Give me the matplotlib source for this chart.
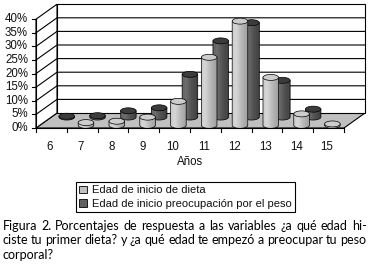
import numpy as np
import matplotlib
matplotlib.use("Agg")
import matplotlib.pyplot as plt
from matplotlib.patches import Polygon, Ellipse, Patch

# datos (porcentaje de respuestas)
anios = ["6", "7", "8", "9", "10", "11", "12", "13", "14", "15"]
inicio_dieta = [0.0, 1.0, 1.5, 3.0, 8.8, 25.0, 38.3, 17.6, 4.2, 0.5]
inicio_preocupacion = [0.3, 0.5, 2.3, 3.4, 15.7, 28.0, 34.7, 13.5, 2.9, 0.0]
y_ticks = [0, 5, 10, 15, 20, 25, 30, 35, 40]
y_labels = [f"{t}%" for t in y_ticks]
series_names = ["Edad de inicio de dieta", "Edad de inicio preocupación por el peso"]
caption = ["Figura 2. Porcentajes de respuesta a las variables ¿a qué edad hi-",
           "ciste tu primer dieta? y ¿a qué edad te empezó a preocupar tu peso",
           "corporal?"]

W, H = 368, 266
PX_U, PX_V = 30.8, 2.72      # pixeles por categoria / por punto porcentual
X0, Y0 = 36, 128             # origen del plano frontal (px desde arriba)
DU, DV = 21 / PX_U, 15 / PX_V  # desplazamiento de profundidad
VMAX = y_ticks[-1]

fig = plt.figure(figsize=(W / 100, H / 100), dpi=100)
ax = fig.add_axes([0, 0, 1, 1])
ax.set_xlim(-X0 / PX_U, (W - X0) / PX_U)
ax.set_ylim((Y0 - H) / PX_V, Y0 / PX_V)
ax.axis("off")

FONT = "Liberation Sans"
FS = 8.3
n = len(anios)


def proj(u, v, d):
    return (u + d * DU, v + d * DV)


# piso y paredes
floor = [proj(0, 0, 0), proj(n, 0, 0), proj(n, 0, 1), proj(0, 0, 1)]
ax.add_patch(Polygon(floor, closed=True, fc="#c0c0c0", ec="black", lw=0.8, zorder=1))
back = [proj(0, 0, 1), proj(n, 0, 1), proj(n, VMAX, 1), proj(0, VMAX, 1)]
ax.add_patch(Polygon(back, closed=True, fc="white", ec="black", lw=0.8, zorder=1))
left = [proj(0, 0, 0), proj(0, 0, 1), proj(0, VMAX, 1), proj(0, VMAX, 0)]
ax.add_patch(Polygon(left, closed=True, fc="white", ec="black", lw=0.8, zorder=1))

for t in y_ticks[1:-1]:
    pts = np.array([proj(0, t, 0), proj(0, t, 1), proj(n, t, 1)])
    ax.plot(pts[:, 0], pts[:, 1], color="black", lw=0.8, zorder=2)

# ejes frontales
ax.plot([0, n], [0, 0], color="black", lw=0.8, zorder=2)
ax.plot([0, 0], [0, VMAX], color="black", lw=0.8, zorder=2)
for i in range(n + 1):
    ax.plot([i, i], [0, -1.4], color="black", lw=0.8, zorder=2)
for t, lab in zip(y_ticks, y_labels):
    ax.plot([0, -0.14], [t, t], color="black", lw=0.8, zorder=2)
    ax.text(-0.26, t, lab, ha="right", va="center", fontsize=FS, family=FONT, color="#111111")
for i, lab in enumerate(anios):
    ax.text(i + 0.45, -4.8, lab, ha="center", va="top", fontsize=FS, family=FONT, color="#111111")
ax.text(n / 2, -10.2, "Años", ha="center", va="top", fontsize=FS, family=FONT, color="#111111")


def cylinder(u, d, val, shades, top_color, z, stripes=False):
    if val <= 0:
        return
    hw, eh = 0.253, 1.1
    bx, by = proj(u, 0, d)
    top = by + val
    th = np.linspace(np.pi, 2 * np.pi, 30)
    pts = [(bx - hw, top)] + [(bx + hw * np.cos(a), by + eh * np.sin(a)) for a in th] + [(bx + hw, top)]
    body = Polygon(pts, closed=True, fc="none", ec="black", lw=0.5, zorder=z + 0.2)
    ax.add_patch(body)
    grad = np.interp(np.linspace(0, 1, 40), [0, 0.25, 0.6, 1], shades)
    if stripes:
        grad = grad - 0.06 * (np.arange(40) % 6 == 0)
    im = ax.imshow(grad[None, :], cmap="gray", vmin=0, vmax=1, aspect="auto",
                   extent=(bx - hw, bx + hw, by - eh, top), interpolation="bilinear",
                   zorder=z)
    im.set_clip_path(body)
    ax.add_patch(Ellipse((bx, top), 2 * hw, 2 * eh, fc=top_color, ec="black", lw=0.5, zorder=z + 0.3))


for i, v in enumerate(inicio_preocupacion):
    cylinder(i + 0.5, 0.73, v, [0.40, 0.44, 0.33, 0.26], "#3c3c3c", 3, stripes=True)
for i, v in enumerate(inicio_dieta):
    cylinder(i + 0.5, 0.18, v, [0.80, 0.84, 0.72, 0.62], "#cdcdcd", 5)

ax.set_xlim(-X0 / PX_U, (W - X0) / PX_U)
ax.set_ylim((Y0 - H) / PX_V, Y0 / PX_V)

handles = [Patch(fc="#c0c0c0", ec="black", lw=0.6), Patch(fc="#606060", ec="black", lw=0.6)]
leg = fig.legend(handles, series_names, loc="upper left", bbox_to_anchor=(76 / W, 1 - 182 / H),
                 prop={"family": FONT, "size": 8.0}, fancybox=False, framealpha=1,
                 edgecolor="black", handlelength=0.7, handleheight=0.7, handletextpad=0.4,
                 borderpad=0.3, labelspacing=0.3, borderaxespad=0)
leg.get_frame().set_linewidth(0.8)
for txt in leg.get_texts():
    txt.set_color("#111111")

# pie de figura justificado
r = fig.canvas.get_renderer()
cap_font = dict(family="Lato", size=9.0, color="black", va="baseline")
x_left, x_right = 2.5 / W, 366.5 / W
baselines = [230, 244.5, 259]
for k, line in enumerate(caption):
    yb = 1 - baselines[k] / H
    words = line.split(" ")
    if k == len(caption) - 1:
        fig.text(x_left, yb, line, ha="left", **cap_font)
        continue
    txts = [fig.text(0, yb, w, ha="left", **cap_font) for w in words]
    widths = [t.get_window_extent(r).width / W for t in txts]
    gap = (x_right - x_left - sum(widths)) / (len(words) - 1)
    x = x_left
    for t, w in zip(txts, widths):
        t.set_x(x)
        x += w + gap

fig.savefig("out.png", dpi=100)
